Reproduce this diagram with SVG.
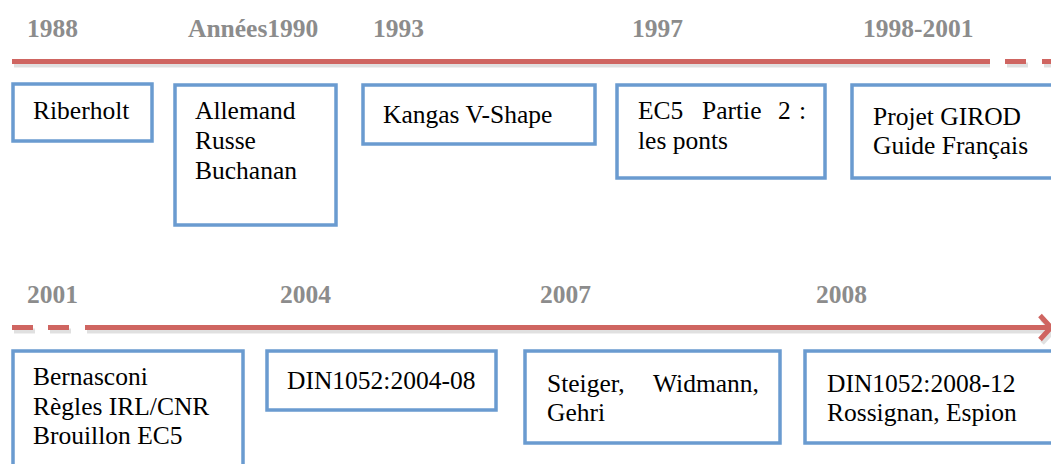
<svg xmlns="http://www.w3.org/2000/svg" width="1051" height="464" viewBox="0 0 1051 464">
<style>
.yr{font-family:"Liberation Serif",serif;font-weight:bold;font-size:25.5px;fill:#8c8c8c}
.tx{font-family:"Liberation Serif",serif;font-size:25.5px;fill:#000}
.box{fill:#fff;stroke:#6a9bd0;stroke-width:3.5}
.ln{stroke:#cf6561;stroke-width:5;fill:none}
.sh{stroke:#000;stroke-opacity:0.12;stroke-width:5;fill:none}
</style>
<rect width="1051" height="464" fill="#fff"/>
<g id="connectors">
<line class="sh" x1="14" y1="65" x2="990" y2="65"/>
<line class="sh" x1="1007" y1="65" x2="1028" y2="65"/>
<line class="sh" x1="1044" y1="65" x2="1051" y2="65"/>
<line class="ln" x1="12" y1="61.5" x2="990" y2="61.5"/>
<line class="ln" x1="1005" y1="61.5" x2="1026" y2="61.5"/>
<line class="ln" x1="1042" y1="61.5" x2="1051" y2="61.5"/>
<line class="sh" x1="14" y1="331" x2="35" y2="331"/>
<line class="sh" x1="50" y1="331" x2="71" y2="331"/>
<line class="sh" x1="87" y1="331" x2="1046" y2="331"/>
<polyline class="sh" points="1042,319 1053,331 1042,343"/>
<line class="ln" x1="12" y1="327.5" x2="33" y2="327.5"/>
<line class="ln" x1="48" y1="327.5" x2="69" y2="327.5"/>
<line class="ln" x1="85" y1="327.5" x2="1049" y2="327.5"/>
<polyline class="ln" points="1040,315.5 1051,327.5 1040,339.5"/>
</g>
<g id="years">
<text class="yr" x="27" y="37">1988</text>
<text class="yr" x="188" y="37">Années1990</text>
<text class="yr" x="373" y="37">1993</text>
<text class="yr" x="632" y="37">1997</text>
<text class="yr" x="863" y="37">1998-2001</text>
<text class="yr" x="27" y="303">2001</text>
<text class="yr" x="280" y="303">2004</text>
<text class="yr" x="540" y="303">2007</text>
<text class="yr" x="816" y="303">2008</text>
</g>
<g id="n-riberholt">
<rect class="box" x="13" y="84" width="139" height="57"/>
<text class="tx" x="33" y="119">Riberholt</text>
</g>
<g id="n-allemand">
<rect class="box" x="175" y="85" width="161" height="140"/>
<text class="tx" x="195" y="119">Allemand</text>
<text class="tx" x="195" y="149">Russe</text>
<text class="tx" x="195" y="179">Buchanan</text>
</g>
<g id="n-kangas">
<rect class="box" x="363" y="85" width="232" height="59"/>
<text class="tx" x="383" y="123">Kangas V-Shape</text>
</g>
<g id="n-ec5">
<rect class="box" x="617" y="85" width="208" height="93"/>
<text class="tx" x="638" y="119">EC5</text>
<text class="tx" x="702" y="119">Partie</text>
<text class="tx" x="778" y="119">2</text>
<text class="tx" x="799" y="119">:</text>
<text class="tx" x="638" y="149">les ponts</text>
</g>
<g id="n-girod">
<rect class="box" x="852" y="85" width="210" height="93"/>
<text class="tx" x="873" y="125">Projet GIROD</text>
<text class="tx" x="873" y="154">Guide Français</text>
</g>
<g id="n-bernasconi">
<rect class="box" x="13" y="351" width="230" height="125"/>
<text class="tx" x="33" y="385">Bernasconi</text>
<text class="tx" x="33" y="415">Règles IRL/CNR</text>
<text class="tx" x="33" y="444">Brouillon EC5</text>
</g>
<g id="n-din2004">
<rect class="box" x="267" y="351" width="229" height="59"/>
<text class="tx" x="287" y="389">DIN1052:2004-08</text>
</g>
<g id="n-steiger">
<rect class="box" x="525" y="351" width="255" height="92"/>
<text class="tx" x="547" y="392">Steiger,</text>
<text class="tx" x="653" y="392">Widmann,</text>
<text class="tx" x="547" y="421">Gehri</text>
</g>
<g id="n-din2008">
<rect class="box" x="805" y="351" width="260" height="92"/>
<text class="tx" x="827" y="392">DIN1052:2008-12</text>
<text class="tx" x="827" y="421">Rossignan, Espion</text>
</g>
</svg>
